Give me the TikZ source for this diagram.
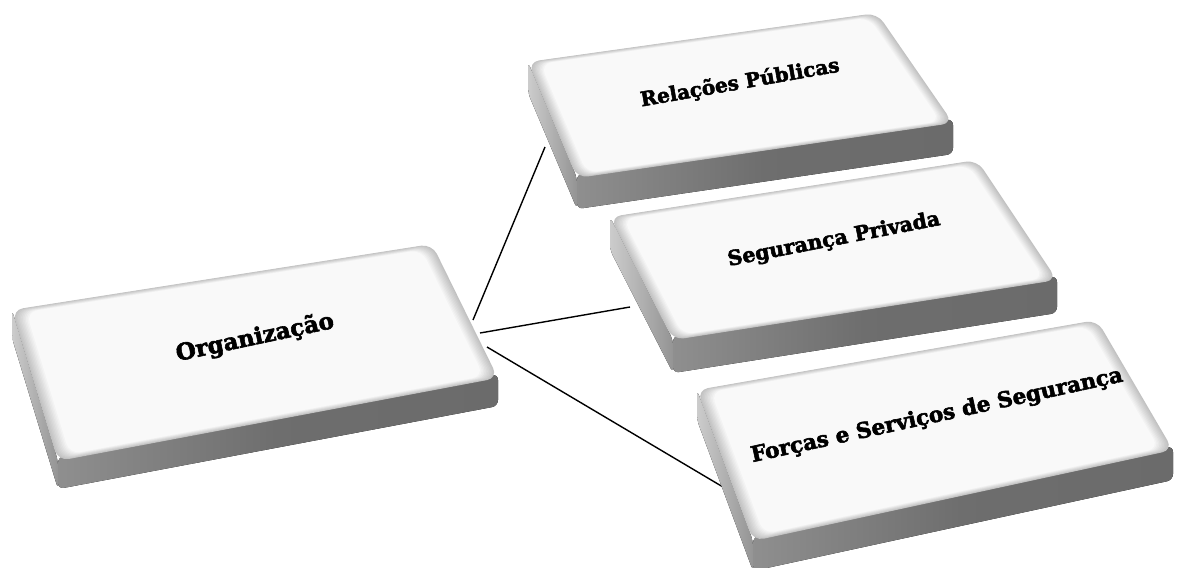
\documentclass[tikz,border=0pt]{standalone}
\usepackage{fontspec}
\setmainfont{DejaVu Serif}[BoldFeatures={FakeBold=2.5}]
\usetikzlibrary{calc}
\tikzset{
  conn/.style={line width=1.4pt, black},
  lbl/.style={font=\bfseries, text=black, inner sep=0pt},
  frontface/.style={left color=black!44, right color=black!58, middle color=black!57, rounded corners=6pt},
  leftface/.style={left color=black!20, right color=black!42, rounded corners=6pt},
}
\newcommand\drawplate[6]{%
  \coordinate (#1-tl) at (#2);
  \coordinate (#1-tr) at (#3);
  \coordinate (#1-br) at (#4);
  \coordinate (#1-bl) at (#5);
  \coordinate (#1-c) at ($(#1-tl)!0.5!(#1-br)$);
  \fill[leftface] (#1-tl) -- ($(#1-tl)+(0,#6)$) -- ($(#1-bl)+(0,#6)$) -- (#1-bl) -- cycle;
  \fill[frontface] ($(#1-bl)+(0,-4)$) -- ($(#1-bl)+(0,#6)$) -- ($(#1-br)+(0,#6)$) -- ($(#1-br)+(0,-4)$) -- cycle;
  \foreach \i in {0,...,9}{%
    \pgfmathsetmacro\ff{\i*0.0065}%
    \pgfmathsetmacro\sy{-\i*0.5}%
    \pgfmathsetmacro\cc{24-\i*2.4}%
    \fill[black!\cc, rounded corners=11pt, shift={(0,\sy)}]
      ($(#1-tl)!\ff!(#1-c)$) -- ($(#1-tr)!\ff!(#1-c)$) -- ($(#1-br)!\ff!(#1-c)$) -- ($(#1-bl)!\ff!(#1-c)$) -- cycle;
  }%
}
\begin{document}
\begin{tikzpicture}[x=1pt,y=-1pt]
\useasboundingbox (0,0) rectangle (1179,568);
% connector end points
\coordinate (o1) at (473,320);
\coordinate (o2) at (480,333);
\coordinate (o3) at (487,347);
\coordinate (r1) at (545,147);
\coordinate (s1) at (630,307);
\coordinate (f1) at (723,487);
\draw[conn] (o1) -- (r1);
\draw[conn] (o2) -- (s1);
\draw[conn] (o3) -- (f1);
% plates
\drawplate{rp}{528,62}{877,13}{953,123}{577,178}{31}
\drawplate{sp}{610,217}{977,160}{1057,280}{673,340}{33}
\drawplate{fs}{697,390}{1097,320}{1173,450}{753,541}{30}
\drawplate{og}{12,310}{432,244}{498,378}{58,461}{28}
% labels
\node[lbl, font=\fontsize{23}{27}\selectfont\bfseries, rotate=12] (og-t) at (255,338) {Organização};
\node[lbl, font=\fontsize{20}{24}\selectfont\bfseries, rotate=10] (rp-t) at (740,83) {Relações Públicas};
\node[lbl, font=\fontsize{20.5}{24}\selectfont\bfseries, rotate=11] (sp-t) at (834,240) {Segurança Privada};
\node[lbl, font=\fontsize{21.5}{25}\selectfont\bfseries, rotate=12.3] (fs-t) at (937,416) {Forças e Serviços de Segurança};
\end{tikzpicture}
\end{document}
